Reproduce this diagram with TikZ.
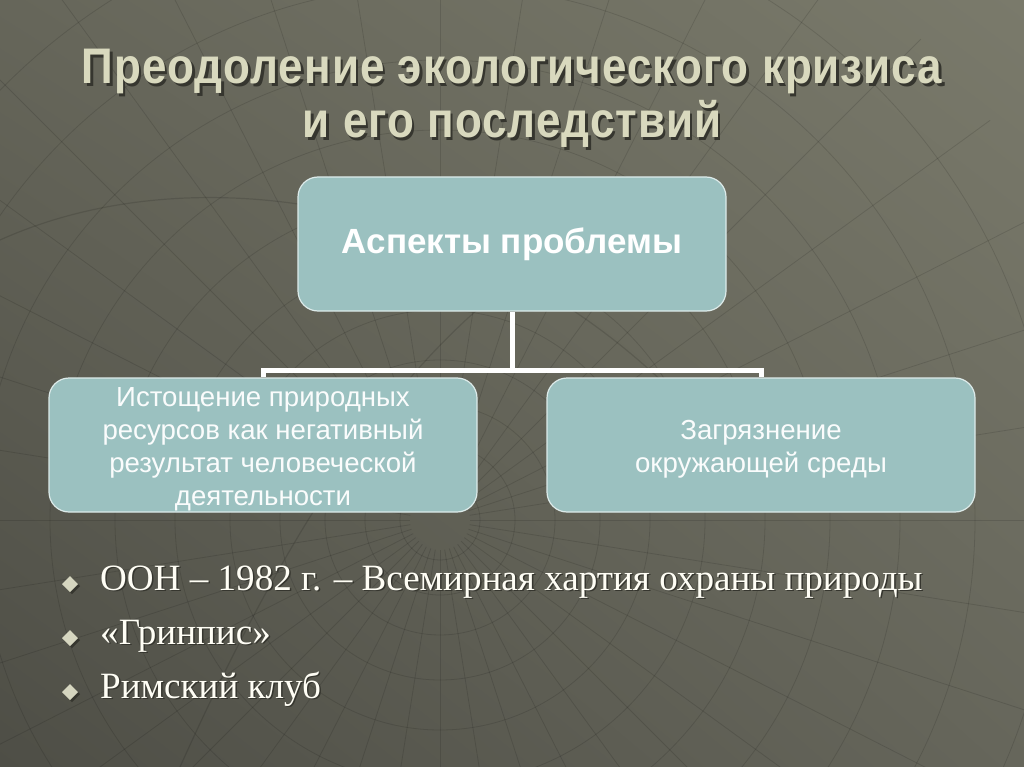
\documentclass[tikz,border=0pt]{standalone}
\usepackage{fontspec}
\setmainfont{Liberation Serif}
\newfontfamily\arialf{Liberation Sans}
\newfontfamily\narrowf[FakeStretch=0.88,LetterSpace=2]{Liberation Sans}
\usetikzlibrary{calc,shadings}
\definecolor{boxfill}{HTML}{9BC1C0}
\definecolor{boxline}{HTML}{DDEBEA}
\definecolor{titlecol}{HTML}{D9D9BE}
\definecolor{bulletcol}{HTML}{D6D6C0}
\definecolor{shadowcol}{HTML}{36362F}
\definecolor{bgUL}{HTML}{66665A}
\definecolor{bgUR}{HTML}{7A7A6B}
\definecolor{bgLL}{HTML}{4E4E46}
\definecolor{bgLR}{HTML}{66665B}
\newcommand\shadowtext[3]{\makebox[0pt][l]{\hspace*{#1}\raisebox{-#1}{\textcolor{shadowcol}{#3}}}\textcolor{#2}{#3}}
\tikzset{
  aspectbox/.style={draw=boxline, line width=1.2pt, fill=boxfill, rounded corners=20pt,
    minimum width=428pt, minimum height=134pt, align=center, text=white, inner sep=4pt},
  subtext/.style={font=\arialf\fontsize{27.6}{33}\selectfont, text=white!95!boxfill, inner ysep=0pt},
  link/.style={draw=white, line width=5pt},
  gridline/.style={draw=black, opacity=0.12, line width=0.8pt},
  bullettext/.style={anchor=base west, font=\fontsize{37.1}{40}\selectfont, inner sep=0pt},
  bulletmark/.style={fill=bulletcol},
  titletext/.style={anchor=base, font=\narrowf\bfseries\fontsize{50}{54}\selectfont, inner sep=0pt},
}
\begin{document}
\begin{tikzpicture}[x=1pt,y=-1pt]
\useasboundingbox (0,0) rectangle (1024,767);
% background
\shade[upper left=bgUL, upper right=bgUR, lower left=bgLL, lower right=bgLR] (0,0) rectangle (1024,767);
\begin{scope}
\clip (0,0) rectangle (1024,767);
\foreach \a in {0,9,...,351} {
  \draw[gridline] (440,520) ++(\a:30) -- ++(\a:650);
}
\foreach \r in {40,75,115,160,210,265,325,390,460,535,615} {
  \draw[gridline] (440,520) circle (\r);
}
\draw[gridline, line width=1.2pt] (0,240) .. controls (200,150) and (500,200) .. (700,420);
\draw[gridline, line width=1.2pt] (180,767) .. controls (300,500) and (420,330) .. (560,250);
\end{scope}
% title
\node[titletext] (title1) at (512,84) {\shadowtext{2.5pt}{titlecol}{Преодоление экологического кризиса}};
\node[titletext] (title2) at (512,138) {\shadowtext{2.5pt}{titlecol}{и его последствий}};
% boxes
\node[aspectbox, font=\arialf\bfseries\fontsize{35}{40}\selectfont] (top) at (512,244) {Аспекты проблемы};
\node[aspectbox, subtext] (left) at (263,445) {\parbox{420pt}{\centering\vspace*{8pt}Истощение природных\\ресурсов как негативный\\результат человеческой\\деятельности}};
\node[aspectbox, subtext] (right) at (761,445) {\parbox{420pt}{\centering\vspace*{8pt}Загрязнение\\окружающей среды}};
% connectors
\coordinate (mid) at (512,370);
\draw[link] (top.south) -- (mid);
\draw[link] (left.north) |- (mid) -| (right.north);
% bullets
\foreach \y/\t [count=\i] in {590/{ООН – 1982 г. – Всемирная хартия охраны природы}, 644/{«Гринпис»}, 698/{Римский клуб}} {
  \fill[shadowcol] (72,\y-12) -- ++(8,8) -- ++(-8,8) -- ++(-8,-8) -- cycle;
  \fill[bulletmark] (70,\y-14) -- ++(8,8) coordinate (bm\i) -- ++(-8,8) -- ++(-8,-8) -- cycle;
  \node[bullettext] (b\i) at (100,\y) {\shadowtext{1.5pt}{white!96!yellow}{\t}};
}
\end{tikzpicture}
\end{document}
